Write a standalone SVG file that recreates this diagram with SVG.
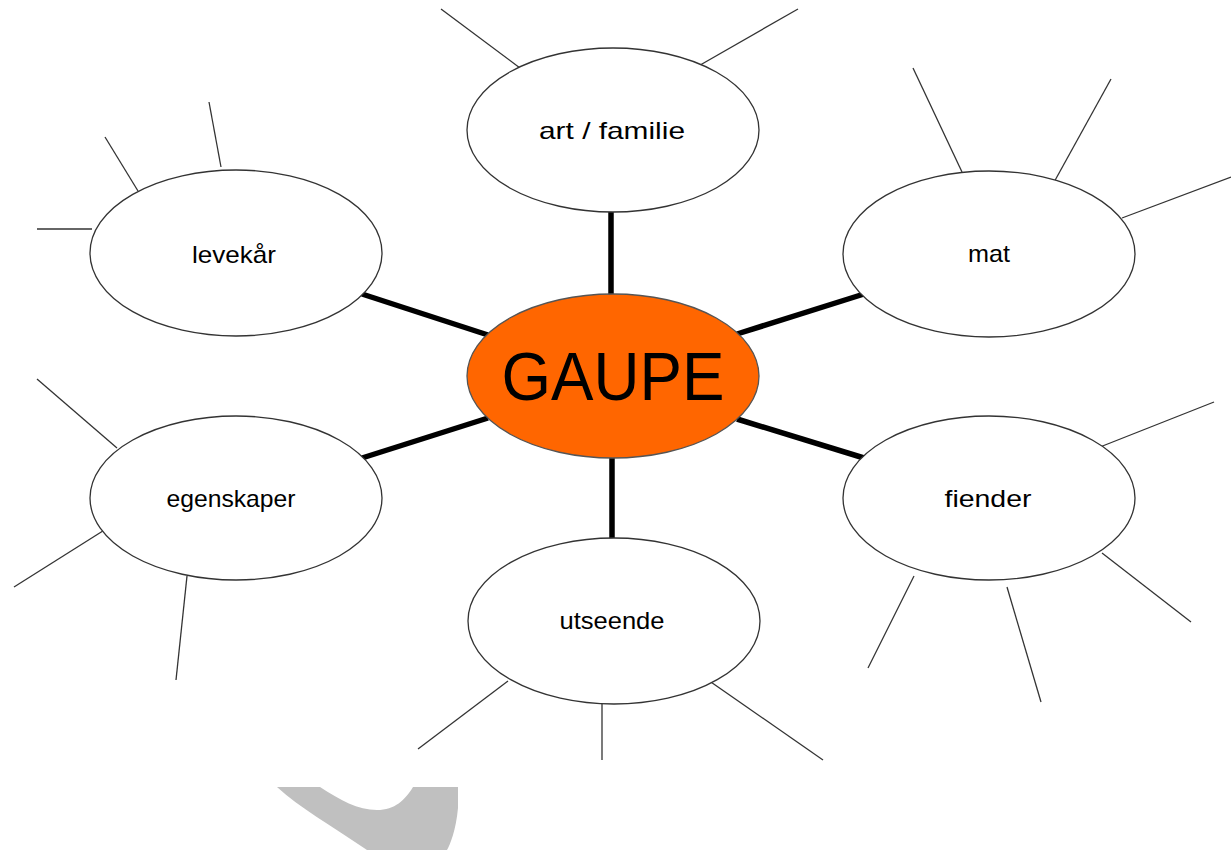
<svg xmlns="http://www.w3.org/2000/svg" width="1231" height="850" viewBox="0 0 1231 850">
<style>
.node{fill:#fff;stroke:#333;stroke-width:1.3}
.center{fill:#FF6600;stroke:#555;stroke-width:1.3}
.thick{stroke:#000;stroke-width:5.5;stroke-linecap:butt}
.thin{stroke:#333;stroke-width:1.3}
.lbl{font-family:"Comic Sans MS","Liberation Sans",Arial,sans-serif;font-size:24px;fill:#000;text-anchor:middle}
.big{font-family:"Comic Sans MS","Liberation Sans",Arial,sans-serif;font-size:68px;fill:#000;text-anchor:middle}
</style>
<rect width="1231" height="850" fill="#fff"/>
<path d="M277,787 L320,787 C340,800 358,810 377,810 C395,810 405,800 413,787 L458,787 L458,808 C456,830 450,845 447,850 L367,850 C330,825 300,808 277,787 Z" fill="#C0C0C0"/>
<g id="connectors">
<line class="thick" x1="611" y1="212" x2="611" y2="296"/>
<line class="thick" x1="612" y1="457" x2="612" y2="539"/>
<line class="thick" x1="362" y1="294" x2="488" y2="335"/>
<line class="thick" x1="737" y1="334" x2="864" y2="294"/>
<line class="thick" x1="362" y1="458" x2="488" y2="418"/>
<line class="thick" x1="737" y1="419" x2="864" y2="458"/>
<line class="thin" x1="441" y1="9" x2="520" y2="68"/>
<line class="thin" x1="798" y1="9" x2="695" y2="68"/>
<line class="thin" x1="37" y1="229" x2="92" y2="229"/>
<line class="thin" x1="105" y1="137" x2="138" y2="191"/>
<line class="thin" x1="209" y1="102" x2="221" y2="167"/>
<line class="thin" x1="913" y1="68" x2="962" y2="172"/>
<line class="thin" x1="1111" y1="79" x2="1053" y2="184"/>
<line class="thin" x1="1231" y1="177" x2="1122" y2="218"/>
<line class="thin" x1="37" y1="379" x2="117" y2="448"/>
<line class="thin" x1="106" y1="529" x2="14" y2="587"/>
<line class="thin" x1="187" y1="576" x2="176" y2="680"/>
<line class="thin" x1="1214" y1="402" x2="1100" y2="447"/>
<line class="thin" x1="1102" y1="553" x2="1191" y2="622"/>
<line class="thin" x1="914" y1="576" x2="868" y2="668"/>
<line class="thin" x1="1007" y1="587" x2="1041" y2="702"/>
<line class="thin" x1="508" y1="681" x2="418" y2="749"/>
<line class="thin" x1="602" y1="703" x2="602" y2="760"/>
<line class="thin" x1="708" y1="680" x2="823" y2="760"/>
</g>
<g id="gaupe">
<ellipse class="center" cx="613" cy="376" rx="146" ry="82"/>
<text class="big" x="613" y="400" textLength="223" lengthAdjust="spacingAndGlyphs">GAUPE</text>
</g>
<g id="art-familie">
<ellipse class="node" cx="613" cy="130" rx="146" ry="82"/>
<text class="lbl" x="612" y="139" textLength="146" lengthAdjust="spacingAndGlyphs">art / familie</text>
</g>
<g id="levekar">
<ellipse class="node" cx="236" cy="253" rx="146" ry="83"/>
<text class="lbl" x="234" y="263" textLength="84" lengthAdjust="spacingAndGlyphs">levekår</text>
</g>
<g id="mat">
<ellipse class="node" cx="989" cy="254" rx="146" ry="83"/>
<text class="lbl" x="989" y="262" textLength="42" lengthAdjust="spacingAndGlyphs">mat</text>
</g>
<g id="egenskaper">
<ellipse class="node" cx="236" cy="498" rx="146" ry="82"/>
<text class="lbl" x="231" y="507" textLength="129" lengthAdjust="spacingAndGlyphs">egenskaper</text>
</g>
<g id="fiender">
<ellipse class="node" cx="989" cy="498" rx="146" ry="82"/>
<text class="lbl" x="988" y="507" textLength="87" lengthAdjust="spacingAndGlyphs">fiender</text>
</g>
<g id="utseende">
<ellipse class="node" cx="614" cy="621" rx="146" ry="83"/>
<text class="lbl" x="612" y="629" textLength="105" lengthAdjust="spacingAndGlyphs">utseende</text>
</g>
</svg>
